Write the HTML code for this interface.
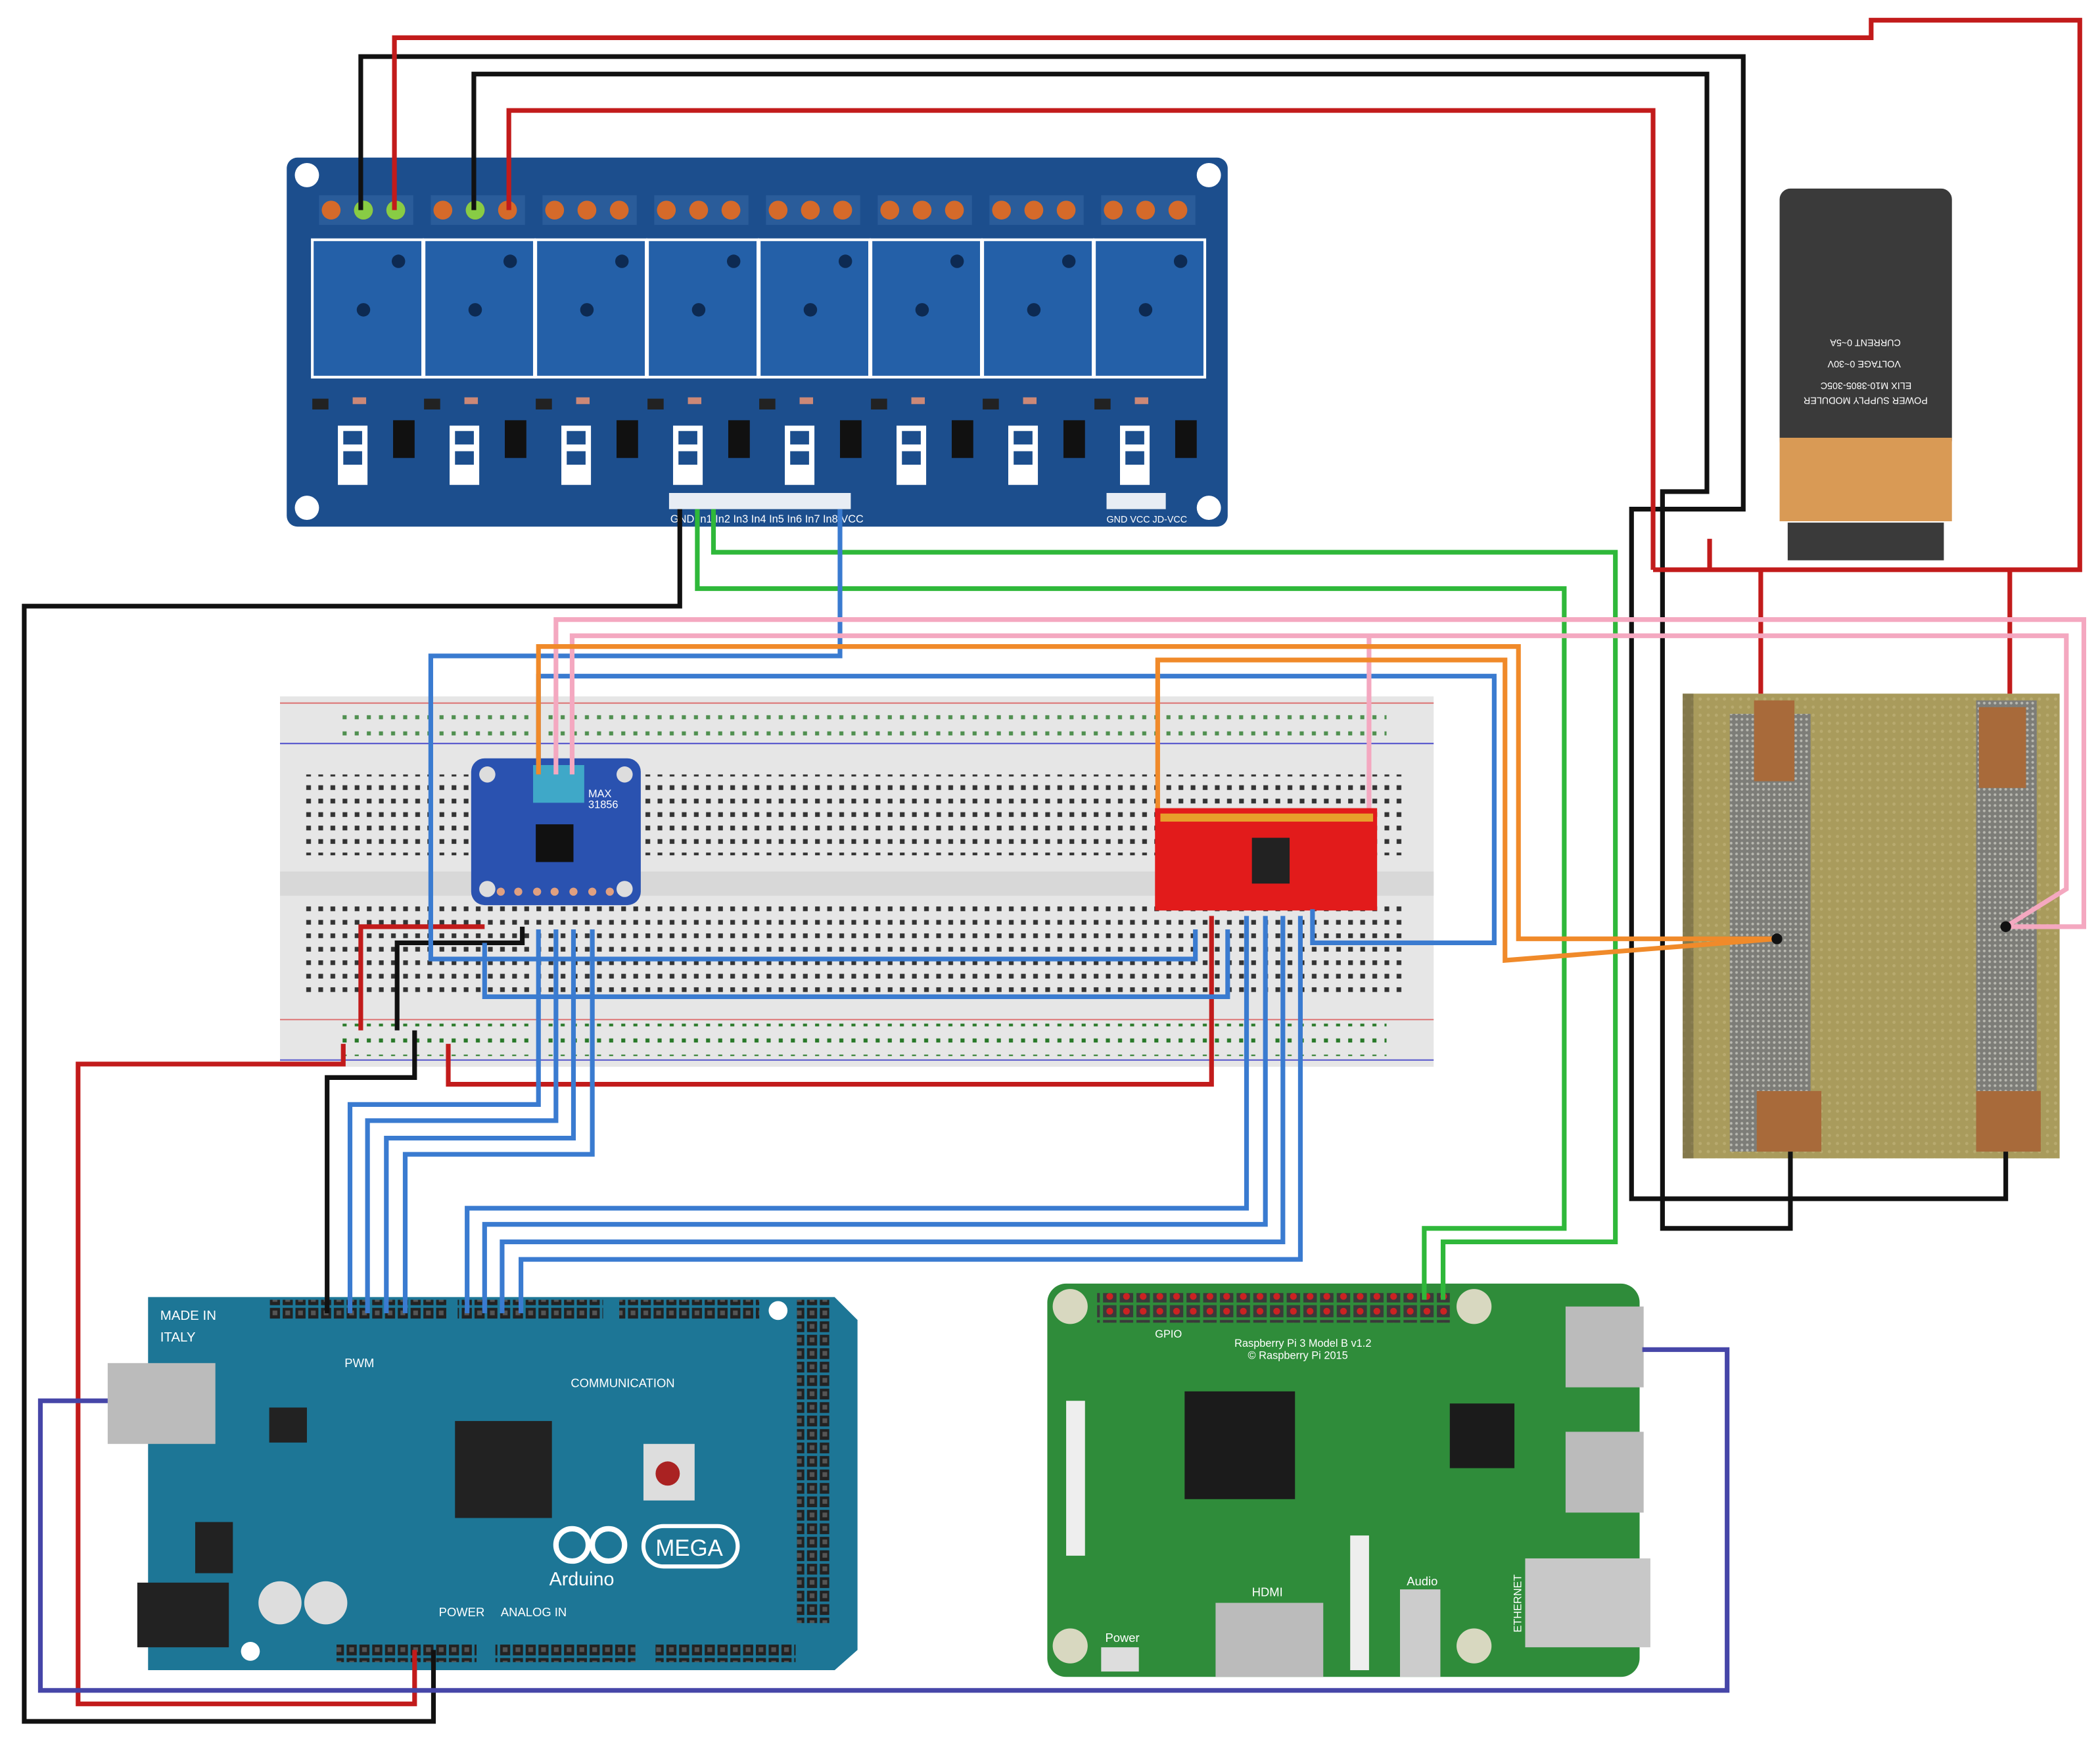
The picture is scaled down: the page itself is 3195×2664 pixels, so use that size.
<!DOCTYPE html>
<html><head><meta charset="utf-8"><style>
html,body{margin:0;padding:0;background:#fff}
svg{display:block}
text{font-family:"Liberation Sans",sans-serif}
</style></head><body>
<svg width="3195" height="2664" viewBox="0 0 1560 1300" preserveAspectRatio="none" xmlns="http://www.w3.org/2000/svg">
<defs>
<pattern id="bbh" x="0" y="0" width="9" height="10" patternUnits="userSpaceOnUse"><rect x="2.5" y="3" width="3.5" height="3.5" fill="#333"/></pattern>
<pattern id="bbp" x="0" y="0" width="9" height="12" patternUnits="userSpaceOnUse"><rect x="2.5" y="3" width="3" height="3" fill="#2a7a2a"/></pattern>
<pattern id="hdr" x="0" y="0" width="9.5" height="10" patternUnits="userSpaceOnUse"><rect x="1" y="1" width="7.5" height="8" fill="#222"/><rect x="3" y="3" width="3.5" height="3.5" fill="#555"/></pattern>
<pattern id="gpio" x="0" y="0" width="12.4" height="11" patternUnits="userSpaceOnUse"><rect x="1" y="1" width="10" height="9" fill="#3a3a3a"/><circle cx="6" cy="5.5" r="2.5" fill="#c22"/></pattern>
<pattern id="fab" x="0" y="0" width="6" height="6" patternUnits="userSpaceOnUse"><rect width="6" height="6" fill="#b3a465"/><circle cx="3" cy="3" r="1.2" fill="#cbbd84"/></pattern>
<pattern id="mesh" x="0" y="0" width="4" height="4" patternUnits="userSpaceOnUse"><rect width="4" height="4" fill="#7d7d78"/><circle cx="2" cy="2" r="1" fill="#b8b8b0"/></pattern>
</defs>
<rect width="1560" height="1300" fill="#fff"/>

<!-- Breadboard -->
<rect x="208" y="517" width="857" height="275" fill="#e6e6e6"/>
<line x1="208" y1="522" x2="1065" y2="522" stroke="#d77" stroke-width="1"/>
<line x1="208" y1="552" x2="1065" y2="552" stroke="#55c" stroke-width="1"/>
<line x1="208" y1="757" x2="1065" y2="757" stroke="#d77" stroke-width="1"/>
<line x1="208" y1="787" x2="1065" y2="787" stroke="#55c" stroke-width="1"/>
<rect x="208" y="647" width="857" height="18" fill="#d8d8d8"/>
<rect x="250" y="525" width="780" height="24" fill="url(#bbp)" opacity="0.8"/>
<rect x="226" y="575" width="820" height="60" fill="url(#bbh)"/>
<rect x="226" y="670" width="820" height="70" fill="url(#bbh)"/>
<rect x="250" y="760" width="780" height="24" fill="url(#bbp)"/>

<!-- Fabric photo -->
<rect x="1250" y="515" width="280" height="345" fill="url(#fab)"/>
<rect x="1250" y="515" width="280" height="345" fill="#9c8e50" opacity="0.4"/>
<rect x="1285" y="530" width="60" height="325" fill="url(#mesh)"/>
<rect x="1468" y="520" width="45" height="335" fill="url(#mesh)"/>
<rect x="1250" y="515" width="8" height="345" fill="#6b6040" opacity="0.6"/>
<rect x="1303" y="520" width="30" height="60" fill="#a86a3a"/>
<rect x="1470" y="525" width="35" height="60" fill="#a86a3a"/>
<rect x="1305" y="810" width="48" height="45" fill="#a86a3a"/>
<rect x="1468" y="810" width="48" height="45" fill="#a86a3a"/>

<!-- Relay board -->
<rect x="213" y="117" width="699" height="274" rx="8" fill="#1c4e8d"/>
<g fill="#fff"><circle cx="228" cy="130" r="9"/><circle cx="898" cy="130" r="9"/><circle cx="228" cy="377" r="9"/><circle cx="898" cy="377" r="9"/></g>
<g id="relay">
<rect x="232" y="178" width="82" height="102" fill="#2460a8" stroke="#fff" stroke-width="2"/>
<circle cx="296" cy="194" r="5" fill="#0d2a52"/><circle cx="270" cy="230" r="5" fill="#0d2a52"/>
<rect x="237" y="145" width="70" height="22" fill="#2a5c9a"/>
<circle cx="246" cy="156" r="7" fill="#d56a2a"/><circle cx="270" cy="156" r="7" fill="#d56a2a"/><circle cx="294" cy="156" r="7" fill="#d56a2a"/>
<rect x="292" y="312" width="16" height="28" fill="#111"/>
<rect x="251" y="316" width="22" height="44" fill="#fff"/><rect x="255" y="320" width="14" height="10" fill="#1c4e8d"/><rect x="255" y="335" width="14" height="10" fill="#1c4e8d"/>
<rect x="232" y="296" width="12" height="8" fill="#222"/><rect x="262" y="295" width="10" height="5" fill="#c87"/>
</g>
<use href="#relay" x="83"/><use href="#relay" x="166"/><use href="#relay" x="249"/><use href="#relay" x="332"/><use href="#relay" x="415"/><use href="#relay" x="498"/><use href="#relay" x="581"/>
<circle cx="270" cy="156" r="7" fill="#8c4"/><circle cx="294" cy="156" r="7" fill="#8c4"/><circle cx="353" cy="156" r="7" fill="#8c4"/>
<rect x="497" y="366" width="135" height="12" fill="#fff" opacity="0.9"/>
<rect x="822" y="366" width="44" height="12" fill="#fff" opacity="0.9"/>
<text x="498" y="388" font-size="8" fill="#fff">GND In1 In2 In3 In4 In5 In6 In7 In8 VCC</text>
<text x="822" y="388" font-size="7" fill="#fff">GND VCC JD-VCC</text>

<!-- Power supply -->
<rect x="1322" y="140" width="128" height="195" rx="8" fill="#3a3a3a"/>
<rect x="1322" y="325" width="128" height="62" fill="#d99a55"/>
<rect x="1328" y="388" width="116" height="28" fill="#3a3a3a"/>
<g font-size="7" fill="#fff" transform="rotate(180 1386 280)">
<text x="1340" y="265">POWER SUPPLY MODULER</text><text x="1352" y="276">ELIX M10-3805-305C</text><text x="1360" y="292">VOLTAGE 0~30V</text><text x="1360" y="308">CURRENT 0~5A</text></g>

<!-- Arduino Mega -->
<path d="M110 963 H620 L637 980 V1225 L620 1240 H110 Z" fill="#1d7696"/>
<rect x="80" y="1012" width="80" height="60" fill="#bbb"/>
<rect x="102" y="1175" width="68" height="48" fill="#222"/>
<rect x="200" y="965" width="132" height="14" fill="url(#hdr)"/>
<rect x="340" y="965" width="108" height="14" fill="url(#hdr)"/>
<rect x="460" y="965" width="104" height="14" fill="url(#hdr)"/>
<rect x="592" y="965" width="24" height="240" fill="url(#hdr)"/>
<rect x="250" y="1220" width="104" height="14" fill="url(#hdr)"/>
<rect x="368" y="1220" width="104" height="14" fill="url(#hdr)"/>
<rect x="487" y="1220" width="104" height="14" fill="url(#hdr)"/>
<rect x="338" y="1055" width="72" height="72" fill="#222"/>
<rect x="200" y="1045" width="28" height="26" fill="#222"/>
<rect x="145" y="1130" width="28" height="38" fill="#222"/>
<rect x="478" y="1072" width="38" height="42" fill="#ddd"/><circle cx="496" cy="1094" r="9" fill="#a22"/>
<circle cx="208" cy="1190" r="16" fill="#ddd"/><circle cx="242" cy="1190" r="16" fill="#ddd"/>
<circle cx="186" cy="1226" r="7" fill="#fff"/><circle cx="578" cy="973" r="7" fill="#fff"/>
<text x="119" y="980" font-size="10" fill="#fff" font-family="Liberation Mono">MADE IN</text>
<text x="119" y="996" font-size="10" fill="#fff" font-family="Liberation Mono">ITALY</text>
<text x="424" y="1030" font-size="9" fill="#fff" font-family="Liberation Mono">COMMUNICATION</text>
<text x="256" y="1015" font-size="9" fill="#fff" font-family="Liberation Mono">PWM</text>
<text x="326" y="1200" font-size="9" fill="#fff" font-family="Liberation Mono">POWER</text>
<text x="372" y="1200" font-size="9" fill="#fff" font-family="Liberation Mono">ANALOG IN</text>
<text x="408" y="1177" font-size="14" fill="#fff">Arduino</text>
<rect x="478" y="1133" width="70" height="30" rx="15" fill="none" stroke="#fff" stroke-width="3"/>
<text x="487" y="1155" font-size="17" fill="#fff">MEGA</text>
<circle cx="425" cy="1147" r="12" fill="none" stroke="#fff" stroke-width="4"/><circle cx="452" cy="1147" r="12" fill="none" stroke="#fff" stroke-width="4"/>

<!-- Raspberry Pi -->
<rect x="778" y="953" width="440" height="292" rx="14" fill="#2f8c3a"/>
<rect x="815" y="960" width="262" height="22" fill="url(#gpio)"/>
<g fill="#d8d8c0"><circle cx="795" cy="970" r="13"/><circle cx="1095" cy="970" r="13"/><circle cx="795" cy="1222" r="13"/><circle cx="1095" cy="1222" r="13"/></g>
<rect x="880" y="1033" width="82" height="80" fill="#1b1b1b"/>
<rect x="1077" y="1042" width="48" height="48" fill="#1b1b1b"/>
<rect x="1163" y="970" width="58" height="60" fill="#bbb"/>
<rect x="1163" y="1063" width="58" height="60" fill="#bbb"/>
<rect x="1133" y="1157" width="93" height="66" fill="#c8c8c8"/>
<rect x="903" y="1190" width="80" height="55" fill="#bbb"/>
<rect x="1040" y="1180" width="30" height="65" fill="#ccc"/>
<rect x="792" y="1040" width="14" height="115" fill="#eee"/>
<rect x="1003" y="1140" width="14" height="100" fill="#eee"/>
<rect x="818" y="1223" width="28" height="18" fill="#ddd"/>
<text x="917" y="1000" font-size="8" fill="#fff">Raspberry Pi 3 Model B v1.2</text>
<text x="927" y="1009" font-size="8" fill="#fff">© Raspberry Pi 2015</text>
<text x="858" y="993" font-size="8" fill="#fff">GPIO</text>
<text x="930" y="1185" font-size="9" fill="#fff">HDMI</text>
<text x="1045" y="1177" font-size="9" fill="#fff">Audio</text>
<text x="821" y="1219" font-size="9" fill="#fff">Power</text>
<text x="1130" y="1212" font-size="8" fill="#fff" transform="rotate(-90 1130 1212)">ETHERNET</text>

<!-- MAX31856 -->
<rect x="350" y="563" width="126" height="109" rx="10" fill="#2a52b0"/>
<rect x="396" y="568" width="38" height="28" fill="#3fa8c8"/>
<rect x="398" y="612" width="28" height="28" fill="#111"/>
<circle cx="362" cy="575" r="6" fill="#ddd"/><circle cx="464" cy="575" r="6" fill="#ddd"/><circle cx="362" cy="660" r="6" fill="#ddd"/><circle cx="464" cy="660" r="6" fill="#ddd"/>
<text x="437" y="592" font-size="8" fill="#fff">MAX</text><text x="437" y="600" font-size="8" fill="#fff">31856</text>
<g fill="#e0a080"><circle cx="372" cy="662" r="3"/><circle cx="385" cy="662" r="3"/><circle cx="399" cy="662" r="3"/><circle cx="412" cy="662" r="3"/><circle cx="426" cy="662" r="3"/><circle cx="440" cy="662" r="3"/><circle cx="453" cy="662" r="3"/></g>

<!-- Red board -->
<rect x="858" y="600" width="165" height="76" fill="#e21b1b"/>
<rect x="930" y="622" width="28" height="34" fill="#222"/>
<g fill="#e8c030"><rect x="862" y="604" width="158" height="6" opacity="0.8"/></g>

<!-- Wires -->
<g fill="none" stroke-width="3.5" stroke-linejoin="miter">
<g stroke="#111">
<path d="M268 156 V42 H1295 V378 H1212 V890 H1490 V855"/>
<path d="M352 156 V55 H1268 V365 H1235 V912 H1330 V855"/>
<path d="M505 378 V450 H18 V1278 H322 V1225"/>
<path d="M243 975 V800 H308 V765"/>
<path d="M295 765 V700 H388 V688"/>
</g>
<g stroke="#c21b1b">
<path d="M293 156 V28 H1390 V15 H1545 V423 H1228"/>
<path d="M378 156 V82 H1228 V423"/>
<path d="M1308 423 V515"/><path d="M1493 423 V515"/>
<path d="M1270 400 V423"/>
<path d="M308 1225 V1265 H58 V790 H255 V775"/>
<path d="M268 765 V688 H360"/>
<path d="M333 775 V805 H900 V680"/>
</g>
<g stroke="#2fb83a">
<path d="M518 378 V437 H1162 V912 H1058 V965"/>
<path d="M530 378 V410 H1200 V922 H1072 V965"/>
</g>
<g stroke="#3a7bd0">
<path d="M624 378 V487 H320 V712 H888 V690"/>
<path d="M975 675 V700 H1110 V502 H400 V575"/>
<path d="M360 700 V740 H912 V690"/>
<path d="M400 690 V820 H260 V975"/><path d="M413 690 V832 H273 V975"/>
<path d="M426 690 V845 H287 V975"/><path d="M440 690 V857 H301 V975"/>
<path d="M926 680 V897 H347 V975"/><path d="M940 680 V909 H360 V975"/>
<path d="M953 680 V922 H373 V975"/><path d="M966 680 V935 H387 V975"/>
</g>
<g stroke="#f4a8c0">
<path d="M413 575 V460 H1548 V688 H1490"/>
<path d="M425 575 V472 H1535 V660 L1490 688"/>
<path d="M1017 600 V472"/>
</g>
<g stroke="#f08a2a">
<path d="M400 575 V480 H1128 V697 H1320"/>
<path d="M860 600 V490 H1118 V713 L1320 697"/>
</g>
<g stroke="#4646a8"><path d="M80 1040 H30 V1255 H1283 V1002 H1220"/></g>
</g>
<circle cx="1320" cy="697" r="4" fill="#111"/><circle cx="1490" cy="688" r="4" fill="#111"/>
</svg>
</body></html>
